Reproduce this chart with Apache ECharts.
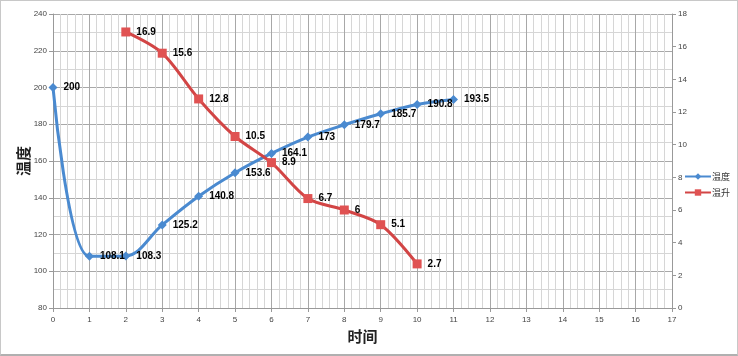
<!DOCTYPE html>
<html><head><meta charset="utf-8">
<script src="https://cdn.jsdelivr.net/npm/echarts@6/dist/echarts.min.js"></script>
<style>
html,body{margin:0;padding:0;background:#fff;}
#c{position:absolute;left:0;top:0;width:736px;height:353px;border:1px solid #c8c8c8;border-bottom:2px solid #b0b0b0;box-sizing:content-box;}
</style></head>
<body><div id="c"></div>
<script>
const tempX = [0,1,2,3,4,5,6,7,8,9,10,11];
const tempY = [200,108.1,108.3,125.2,140.8,153.6,164.1,173,179.7,185.7,190.8,193.5];
const riseX = [2,3,4,5,6,7,8,9,10];
const riseY = [16.9,15.6,12.8,10.5,8.9,6.7,6,5.1,2.7];
const seriesNames = ['温度','温升'];
const xName = '时间', yName = '温度';

const chart = echarts.init(document.getElementById('c'), null, {renderer:'canvas'});
const font = 'Liberation Sans, Arial, sans-serif';
const lbl = {show:true, position:'right', distance:6, fontSize:10, fontWeight:'bold', color:'#000', fontFamily:font};
chart.setOption({
  animation:false,
  textStyle:{fontFamily:font},
  legend:{
    orient:'vertical', right:2, top:166, itemWidth:26, itemHeight:8, itemGap:7,
    textStyle:{fontSize:9, color:'#333', padding:[0,0,0,-4], fontFamily:'Noto Sans CJK SC'},
    data:seriesNames
  },
  grid:{left:52, right:65, top:13, bottom:46},
  xAxis:{
    type:'value', min:0, max:17, interval:1,
    name:xName, nameLocation:'middle', nameGap:18,
    nameTextStyle:{fontSize:15, fontWeight:'bold', color:'#222', fontFamily:'Noto Sans CJK SC'},
    axisLine:{lineStyle:{color:'#999'}},
    axisTick:{show:true, length:4, lineStyle:{color:'#999'}},
    axisLabel:{fontSize:8, color:'#444', margin:8},
    splitLine:{show:true, lineStyle:{color:'#a8a8a8', width:1}},
    minorTick:{show:false, splitNumber:5},
    minorSplitLine:{show:true, lineStyle:{color:'#d6d6d6', width:1}}
  },
  yAxis:[{
    type:'value', min:80, max:240, interval:20,
    name:yName, nameLocation:'middle', nameGap:22, nameRotate:90, nameMoveOverlap:false,
    nameTextStyle:{fontSize:15, fontWeight:'bold', color:'#222', fontFamily:'Noto Sans CJK SC'},
    axisLine:{show:true, lineStyle:{color:'#999'}},
    axisTick:{show:true, length:4, lineStyle:{color:'#999'}},
    axisLabel:{fontSize:8, color:'#444', margin:6},
    splitLine:{show:true, lineStyle:{color:'#a8a8a8', width:1}},
    minorTick:{show:false, splitNumber:2},
    minorSplitLine:{show:true, lineStyle:{color:'#d6d6d6', width:1}}
  },{
    type:'value', min:0, max:18, interval:2, position:'right',
    axisLine:{show:true, lineStyle:{color:'#999'}},
    axisTick:{show:true, length:4, lineStyle:{color:'#999'}},
    axisLabel:{fontSize:8, color:'#444', margin:6},
    splitLine:{show:false}
  }],
  series:[{
    name:seriesNames[0], type:'line', smooth:0.35, yAxisIndex:0,
    data:tempX.map((x,i)=>[x,tempY[i]]),
    symbol:'diamond', symbolSize:9,
    lineStyle:{color:'#4a8ad0', width:3},
    itemStyle:{color:'#4a8ad0'},
    label:lbl, z:3
  },{
    name:seriesNames[1], type:'line', smooth:0.3, yAxisIndex:1,
    data:riseX.map((x,i)=>[x,riseY[i]]),
    symbol:'rect', symbolSize:9,
    lineStyle:{color:'#d24545', width:3},
    itemStyle:{color:'#e05252'},
    label:lbl, z:4
  }]
});
</script></body></html>
